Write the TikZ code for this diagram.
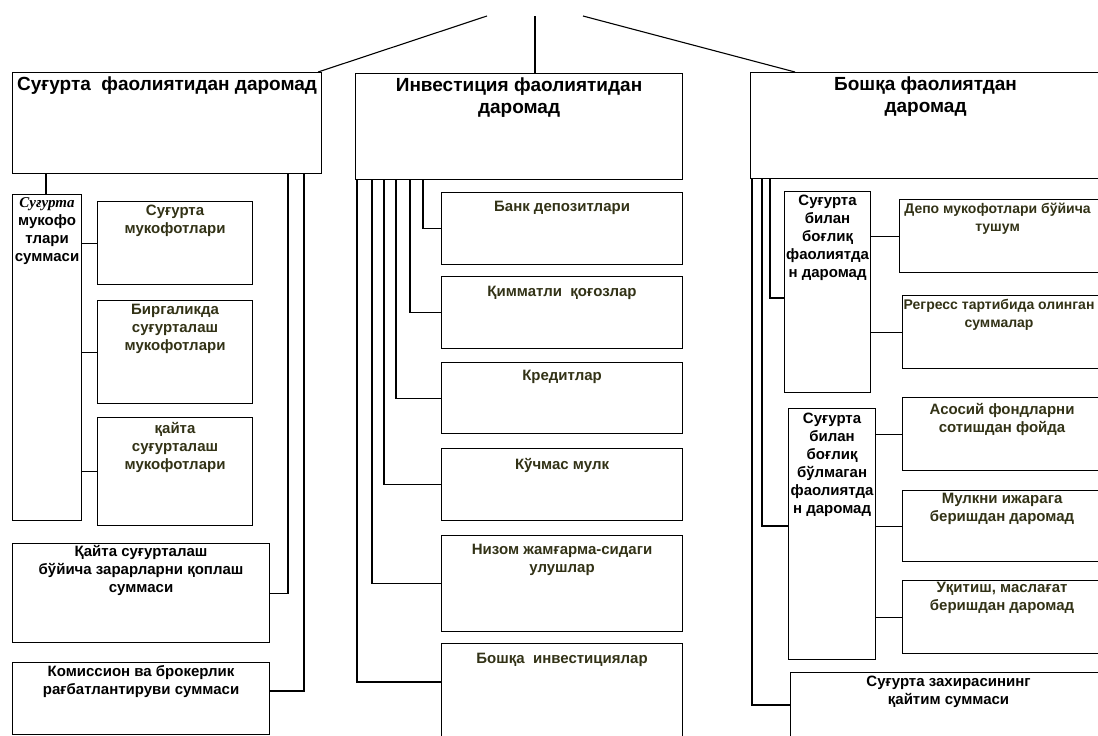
\documentclass[tikz,border=0pt]{standalone}
\usepackage{fontspec}
\setmainfont{Liberation Sans}
\newfontfamily\timesfont{Liberation Serif}
\usetikzlibrary{positioning}
\definecolor{olivetext}{RGB}{50,50,22}

\tikzset{
  box/.style={draw, line width=1.1pt, anchor=north west, inner sep=0pt},
  head/.style={font=\bfseries\fontsize{19}{22}\selectfont, align=center, inner sep=0pt},
  item/.style={font=\bfseries\fontsize{15}{18}\selectfont, align=center, inner sep=0pt, text=olivetext},
  itemb/.style={item, text=black},
  itemnarrow/.style={item, font=\bfseries\fontsize{14}{18}\selectfont},
  conn/.style={line width=1.1pt},
}

\begin{document}
\begin{tikzpicture}[x=1pt,y=-1pt]
\useasboundingbox (0,0) rectangle (1098,736);
\clip (0,0) rectangle (1098,736);

% three kinds of income
\coordinate (root) at (535,16);
\node[box, minimum width=309, minimum height=101] (ins) at (12,72) {};
\node[box, minimum width=327, minimum height=106] (inv) at (355,73) {};
\node[box, minimum width=350, minimum height=106] (oth) at (750,72) {};
\node[head, below=5pt of ins.north] {Суғурта\ \ фаолиятидан даромад};
\node[head, below=5pt of inv.north] {Инвестиция фаолиятидан\\даромад};
\node[head, below=5pt of oth.north] {Бошқа фаолиятдан\\даромад};
\draw[conn] ([xshift=-48pt]root) -- ([xshift=-4pt]ins.north east);
\draw[conn] (root) -- (inv.north -| root);
\draw[conn] ([xshift=48pt]root) -- ([xshift=45pt]oth.north west);

% insurance activity
\node[box, minimum width=69, minimum height=326] (sum) at (12,194) {};
\node[itemb, below=3pt of sum.north] {{\timesfont\itshape Суғурта}\\мукофо\\тлари\\суммаси};
\node[box, minimum width=155, minimum height=83] (prem) at (97,201) {};
\node[item, below=4pt of prem.north] {Суғурта\\мукофотлари};
\node[box, minimum width=155, minimum height=103] (coins) at (97,300) {};
\node[item, below=4pt of coins.north] {Биргаликда\\суғурталаш\\мукофотлари};
\node[box, minimum width=155, minimum height=108] (reins) at (97,417) {};
\node[item, below=5pt of reins.north] {қайта\\суғурталаш\\мукофотлари};
\node[box, minimum width=257, minimum height=99] (loss) at (12,543) {};
\node[itemb, below=2pt of loss.north] {Қайта суғурталаш\\бўйича зарарларни қоплаш\\суммаси};
\node[box, minimum width=257, minimum height=72] (comm) at (12,662) {};
\node[itemb, below=3pt of comm.north] {Комиссион ва брокерлик\\рағбатлантируви суммаси};
\draw[conn] ([xshift=34pt]ins.south west) -- ([xshift=34pt]sum.north west);
\draw[conn] (prem.west) -- (prem.west -| sum.east);
\draw[conn] (coins.west) -- (coins.west -| sum.east);
\draw[conn] (reins.west) -- (reins.west -| sum.east);
\draw[conn] ([xshift=276pt]ins.south west) |- (loss.east);
\draw[conn] ([xshift=292pt]ins.south west) |- ([yshift=-29pt]comm.north east);

% investment activity
\node[box, minimum width=241, minimum height=72] (bank) at (441,192) {};
\node[item, below=9pt of bank.north] {Банк депозитлари};
\node[box, minimum width=241, minimum height=72] (secur) at (441,276) {};
\node[item, below=10pt of secur.north] {Қимматли\ \ қоғозлар};
\node[box, minimum width=241, minimum height=71] (cred) at (441,362) {};
\node[item, below=8pt of cred.north] {Кредитлар};
\node[box, minimum width=241, minimum height=72] (estate) at (441,448) {};
\node[item, below=10pt of estate.north] {Кўчмас мулк};
\node[box, minimum width=241, minimum height=96] (share) at (441,535) {};
\node[item, below=9pt of share.north] {Низом жамғарма-сидаги\\улушлар};
\node[box, minimum width=241, minimum height=120] (otherinv) at (441,643) {};
\node[item, below=10pt of otherinv.north] {Бошқа\ \ инвестициялар};
\draw[conn] ([xshift=68pt]inv.south west) |- (bank.west);
\draw[conn] ([xshift=55pt]inv.south west) |- (secur.west);
\draw[conn] ([xshift=41pt]inv.south west) |- (cred.west);
\draw[conn] ([xshift=29pt]inv.south west) |- (estate.west);
\draw[conn] ([xshift=17pt]inv.south west) |- (share.west);
\draw[conn] ([xshift=2pt]inv.south west) |- ([yshift=-39pt]otherinv.north west);

% other activity
\node[box, minimum width=86, minimum height=201] (linked) at (784,191) {};
\node[itemb, below=4pt of linked.north] {Суғурта\\билан\\боғлиқ\\фаолиятда\\н даромад};
\node[box, minimum width=202, minimum height=73] (depo) at (899,199) {};
\node[itemnarrow, below=4pt of depo.north, xshift=-3pt] {Депо мукофотлари бўйича\\тушум};
\node[box, minimum width=199, minimum height=73] (regress) at (902,295) {};
\node[itemnarrow, below=4pt of regress.north, xshift=-3pt] {Регресс тартибида олинган\\суммалар};
\node[box, minimum width=87, minimum height=251] (unlinked) at (788,408) {};
\node[itemb, below=5pt of unlinked.north] {Суғурта\\билан\\боғлиқ\\бўлмаган\\фаолиятда\\н даромад};
\node[box, minimum width=199, minimum height=73] (assets) at (902,397) {};
\node[item, below=6pt of assets.north] {Асосий фондларни\\сотишдан фойда};
\node[box, minimum width=199, minimum height=71] (rent) at (902,490) {};
\node[item, below=3pt of rent.north] {Мулкни ижарага\\беришдан даромад};
\node[box, minimum width=199, minimum height=73] (teach) at (902,580) {};
\node[item, below=2pt of teach.north] {Уқитиш, маслағат\\беришдан даромад};
\node[box, minimum width=316, minimum height=100] (reserve) at (790,672) {};
\node[itemb, below=4pt of reserve.north] {Суғурта захирасининг\\қайтим суммаси};
\draw[conn] ([xshift=20pt]oth.south west) |- ([yshift=-107pt]linked.north west);
\draw[conn] (depo.west) -- (depo.west -| linked.east);
\draw[conn] (regress.west) -- (regress.west -| linked.east);
\draw[conn] ([xshift=12pt]oth.south west) |- ([yshift=-118pt]unlinked.north west);
\draw[conn] (assets.west) -- (assets.west -| unlinked.east);
\draw[conn] (rent.west) -- (rent.west -| unlinked.east);
\draw[conn] (teach.west) -- (teach.west -| unlinked.east);
\draw[conn] ([xshift=2pt]oth.south west) |- ([yshift=-33pt]reserve.north west);
\end{tikzpicture}
\end{document}
